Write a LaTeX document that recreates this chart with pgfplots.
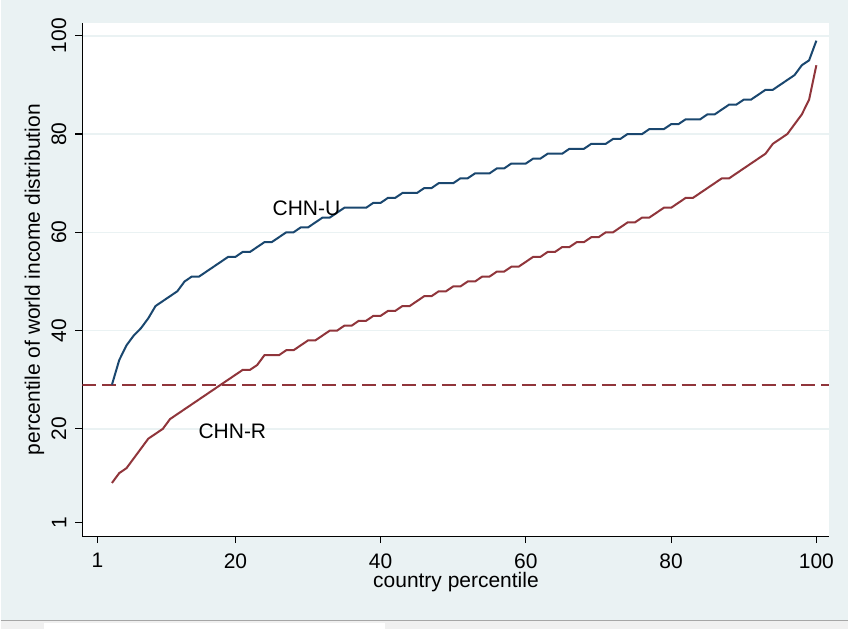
\documentclass[border=0pt]{standalone}
\usepackage{fontspec}
\setmainfont{Liberation Sans}
\usepackage{pgfplots}
\usepackage{pgfplotstable}
\pgfplotsset{compat=1.18}
\definecolor{bgc}{HTML}{EAF2F3}
\definecolor{gridc}{HTML}{EAF2F3}
\definecolor{sblue}{HTML}{1A476F}
\definecolor{sred}{HTML}{90353B}
\pgfplotstableread{
x y
3 29
4 34
5 37
6 39
7 40.5
8 42.5
9 45
10 46
11 47
12 48
13 50
14 51
15 51
16 52
17 53
18 54
19 55
20 55
21 56
22 56
23 57
24 58
25 58
26 59
27 60
28 60
29 61
30 61
31 62
32 63
33 63
34 64
35 65
36 65
37 65
38 65
39 66
40 66
41 67
42 67
43 68
44 68
45 68
46 69
47 69
48 70
49 70
50 70
51 71
52 71
53 72
54 72
55 72
56 73
57 73
58 74
59 74
60 74
61 75
62 75
63 76
64 76
65 76
66 77
67 77
68 77
69 78
70 78
71 78
72 79
73 79
74 80
75 80
76 80
77 81
78 81
79 81
80 82
81 82
82 83
83 83
84 83
85 84
86 84
87 85
88 86
89 86
90 87
91 87
92 88
93 89
94 89
95 90
96 91
97 92
98 94
99 95
100 99
}\urban
\pgfplotstableread{
x y
3 9
4 11
5 12
6 14
7 16
8 18
9 19
10 20
11 22
12 23
13 24
14 25
15 26
16 27
17 28
18 29
19 30
20 31
21 32
22 32
23 33
24 35
25 35
26 35
27 36
28 36
29 37
30 38
31 38
32 39
33 40
34 40
35 41
36 41
37 42
38 42
39 43
40 43
41 44
42 44
43 45
44 45
45 46
46 47
47 47
48 48
49 48
50 49
51 49
52 50
53 50
54 51
55 51
56 52
57 52
58 53
59 53
60 54
61 55
62 55
63 56
64 56
65 57
66 57
67 58
68 58
69 59
70 59
71 60
72 60
73 61
74 62
75 62
76 63
77 63
78 64
79 65
80 65
81 66
82 67
83 67
84 68
85 69
86 70
87 71
88 71
89 72
90 73
91 74
92 75
93 76
94 78
95 79
96 80
97 82
98 84
99 87
100 94
}\rural
\begin{document}
\fontsize{21}{25}\selectfont
\begin{tikzpicture}
\fill[bgc] (0pt,0pt) rectangle (849pt,630pt);
\fill[gray!12] (0pt,0pt) rectangle (849pt,8pt);
\draw[gray!70, line width=1.2pt] (0pt,8.5pt) -- (849pt,8.5pt);
\fill[white] (43pt,0pt) rectangle (385pt,6pt);
\begin{axis}[
  at={(82pt,93pt)}, anchor=south west,
  scale only axis, width=748pt, height=514pt,
  xmin=-1.06, xmax=101.8, ymin=-1.85, ymax=102.6,
  axis x line*=bottom, axis y line*=left,
  axis line style={line width=1.2pt, black},
  axis background/.style={fill=white},
  xtick={1,20,40,60,80,100},
  ytick={20,40,60,80,100},
  extra y ticks={1},
  extra y tick style={grid=none},
  ymajorgrids,
  grid style={gridc, line width=1.6pt},
  tick align=outside,
  major tick length=7pt,
  tick style={line width=1.1pt, black},
  /pgf/number format/assume math mode=true,
  ticklabel style={font=\fontsize{21}{25}\selectfont},
  yticklabel style={rotate=90, anchor=south, inner sep=0pt},
  yticklabel shift=9pt,
  xticklabel style={inner sep=0pt},
  xticklabel shift=10pt,
  xlabel={country percentile},
  ylabel={percentile of world income distribution},
  label style={font=\fontsize{21}{25}\selectfont},
  xlabel style={at={(axis description cs:0.5,0)}, anchor=north, yshift=-36pt, inner sep=0pt},
  ylabel style={at={(axis description cs:0,0.5)}, anchor=south, yshift=38pt, inner sep=0pt},
  clip=true,
]
\addplot[sred, line width=2pt, dash pattern=on 14pt off 6pt] coordinates {(-1.06,29) (101.8,29)};
\addplot[sblue, line width=2pt] table[x=x,y=y] {\urban};
\addplot[sred, line width=2pt] table[x=x,y=y] {\rural};
\node[anchor=west, inner sep=0pt] at (axis cs:25.1,64.8) {CHN-U};
\node[anchor=west, inner sep=0pt] at (axis cs:14.9,19.5) {CHN-R};
\end{axis}
\end{tikzpicture}
\end{document}
